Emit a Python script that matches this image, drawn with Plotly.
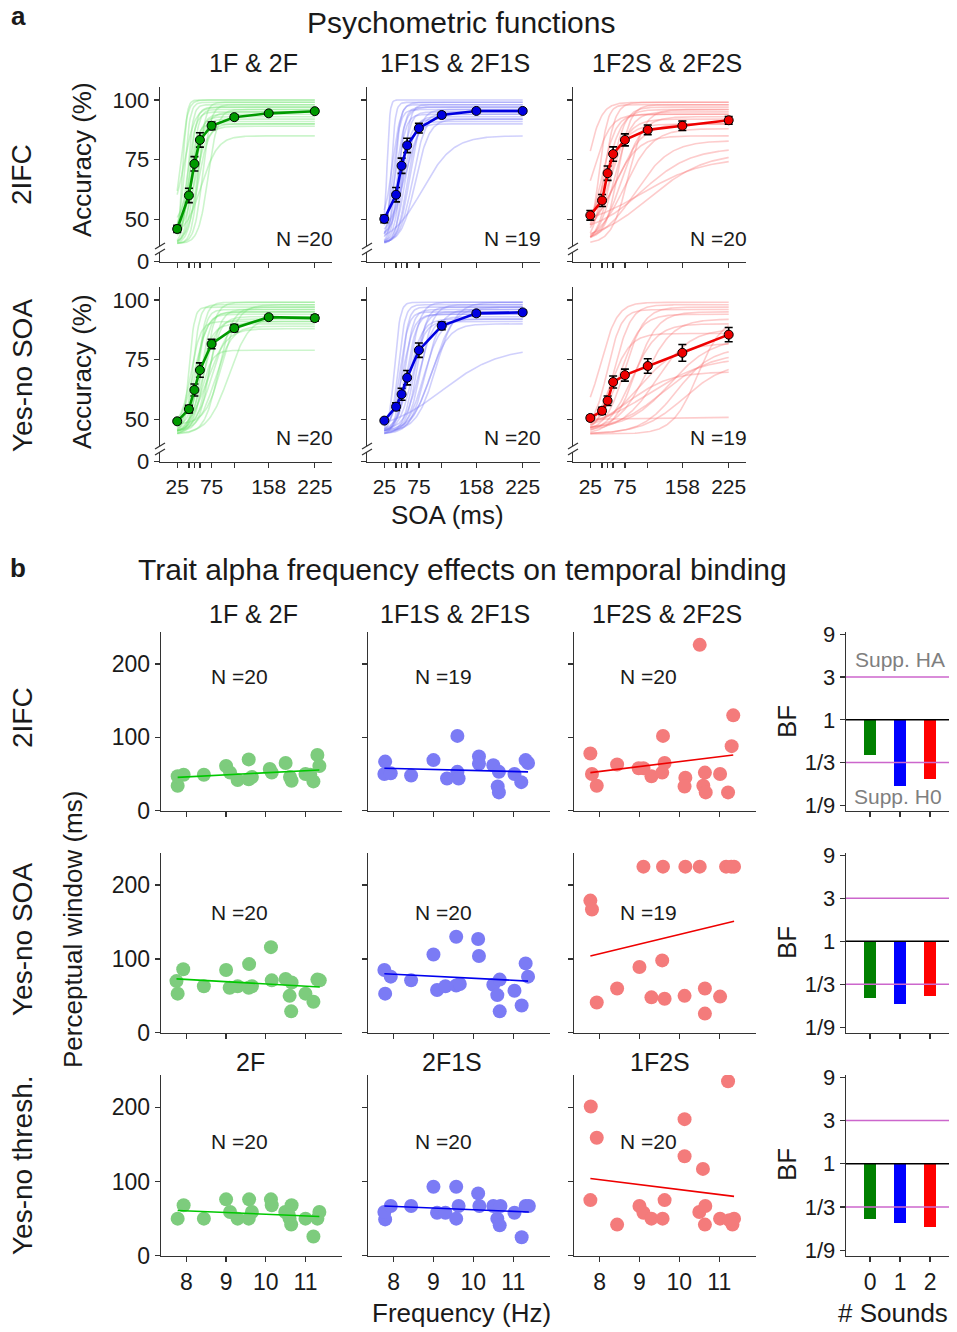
import numpy as np
import plotly.graph_objects as go

W, H = 957, 1332
FONT = "Liberation Sans, Arial, Helvetica, sans-serif"
INK = "#1a1a1a"
AXC = "#333333"


def X(px):
    return px / W


def Y(py):
    return 1 - py / H


# ------------------------------------------------------------------ panel a data
soa = [25, 42, 50, 58, 75, 108, 158, 225]
soa_ticktext = ["25", "", "", "", "75", "", "158", "225"]
acc_tickvals = [32.5, 50, 75, 100]          # 32.5 sits at the axis break and is labelled 0
acc_ticktext = ["0", "50", "75", "100"]
cond_titles = ["1F & 2F", "1F1S & 2F1S", "1F2S & 2F2S"]
row_titles_a = ["2IFC", "Yes-no SOA"]

# mean accuracy (%) and s.e.m. -- row 2IFC
acc_2ifc_1f = [46.1, 60.1, 73.3, 83.3, 89.2, 92.8, 94.4, 95.3]
err_2ifc_1f = [1.5, 3.0, 3.0, 3.0, 1.6, 1.0, 0.6, 0.6]
acc_2ifc_1f1s = [50.3, 60.4, 72.5, 81.0, 88.2, 93.7, 95.4, 95.4]
err_2ifc_1f1s = [1.6, 3.0, 3.2, 3.0, 2.0, 1.0, 0.7, 0.7]
acc_2ifc_1f2s = [51.8, 58.0, 69.4, 77.4, 83.3, 87.5, 89.2, 91.5]
err_2ifc_1f2s = [2.0, 2.5, 3.0, 3.0, 2.5, 2.0, 2.0, 1.6]
# row yes-no SOA
acc_soa_1f = [49.3, 54.4, 62.4, 70.7, 81.6, 88.2, 92.8, 92.4]
err_soa_1f = [0.6, 1.6, 2.5, 3.0, 2.0, 1.5, 0.8, 1.3]
acc_soa_1f1s = [49.6, 55.4, 60.6, 67.5, 79.0, 89.2, 94.4, 94.8]
err_soa_1f1s = [0.6, 1.6, 2.5, 3.0, 3.0, 1.6, 1.1, 0.9]
acc_soa_1f2s = [50.7, 53.7, 57.9, 65.7, 68.6, 72.4, 77.9, 85.5]
err_soa_1f2s = [1.0, 1.5, 2.0, 2.5, 2.5, 3.0, 3.5, 3.0]

n_psych = [[20, 19, 20], [20, 20, 19]]

# individual psychometric fits: lower, upper, midpoint (ms), spread (ms)
fits_2ifc_1f_lo = [42, 45, 40, 48, 42, 40, 44, 40, 42, 40, 45, 40, 42, 40, 40, 43, 50, 40, 44, 46]
fits_2ifc_1f_hi = [100, 99, 98, 100, 97, 96, 95, 94, 93, 92, 91, 90, 89, 98, 96, 85, 97, 99, 90, 95]
fits_2ifc_1f_mid = [33, 36, 40, 30, 43, 46, 40, 50, 45, 53, 48, 55, 50, 62, 70, 60, 35, 56, 42, 47]
fits_2ifc_1f_sp = [3, 4, 4, 5, 5, 5, 6, 6, 7, 6, 8, 8, 9, 6, 7, 12, 8, 5, 6, 10]

fits_2ifc_1f1s_lo = [45, 42, 40, 40, 44, 40, 42, 40, 40, 43, 40, 40, 45, 40, 40, 48, 40, 42, 40]
fits_2ifc_1f1s_hi = [100, 99, 98, 97, 96, 95, 94, 93, 92, 91, 90, 96, 97, 94, 85, 99, 92, 95, 98]
fits_2ifc_1f1s_mid = [29, 35, 40, 45, 38, 50, 44, 55, 48, 52, 58, 62, 42, 66, 80, 37, 70, 55, 52]
fits_2ifc_1f1s_sp = [2, 3, 4, 5, 5, 6, 6, 7, 8, 8, 7, 8, 7, 9, 22, 6, 10, 12, 5]

fits_2ifc_1f2s_lo = [40, 42, 45, 40, 44, 40, 42, 40, 40, 45, 40, 42, 40, 44, 40, 46, 40, 42, 48, 40]
fits_2ifc_1f2s_hi = [99, 98, 99, 97, 96, 95, 94, 93, 92, 90, 88, 85, 83, 80, 78, 76, 96, 98, 94, 90]
fits_2ifc_1f2s_mid = [45, 38, 20, 55, 48, 60, 42, 70, 52, 65, 75, 58, 90, 100, 110, 100, 80, 65, 30, 45]
fits_2ifc_1f2s_sp = [8, 6, 10, 10, 12, 12, 10, 15, 14, 18, 20, 18, 25, 35, 40, 45, 12, 9, 12, 16]

fits_soa_1f_lo = [45, 46, 44, 45, 44, 46, 45, 44, 45, 46, 45, 44, 45, 48, 44, 45, 46, 44, 45, 48]
fits_soa_1f_hi = [97, 98, 96, 95, 99, 94, 93, 92, 91, 90, 89, 88, 79, 98, 97, 96, 95, 93, 99, 91]
fits_soa_1f_mid = [42, 48, 55, 60, 65, 52, 70, 62, 75, 58, 80, 68, 60, 90, 85, 72, 50, 100, 55, 45]
fits_soa_1f_sp = [4, 5, 6, 7, 8, 8, 9, 10, 12, 9, 12, 14, 8, 12, 10, 8, 10, 15, 6, 7]

fits_soa_1f1s_lo = [46, 45, 44, 45, 46, 44, 45, 46, 44, 45, 44, 45, 46, 44, 45, 46, 44, 45, 46, 45]
fits_soa_1f1s_hi = [99, 98, 97, 96, 99, 95, 94, 93, 92, 91, 90, 99, 97, 96, 80, 95, 92, 98, 94, 97]
fits_soa_1f1s_mid = [40, 45, 50, 55, 62, 68, 58, 75, 82, 65, 90, 100, 72, 85, 110, 48, 60, 78, 52, 95]
fits_soa_1f1s_sp = [4, 5, 5, 6, 8, 8, 7, 10, 12, 9, 14, 14, 7, 11, 40, 6, 10, 9, 8, 15]

fits_soa_1f2s_lo = [44, 45, 46, 44, 45, 46, 44, 45, 44, 46, 45, 44, 45, 46, 44, 50, 45, 48, 44]
fits_soa_1f2s_hi = [98, 97, 96, 95, 94, 92, 90, 88, 86, 84, 82, 80, 78, 76, 74, 51, 70, 99, 93]
fits_soa_1f2s_mid = [60, 75, 50, 90, 68, 105, 85, 120, 55, 140, 95, 150, 130, 110, 160, 100, 80, 40, 180]
fits_soa_1f2s_sp = [12, 14, 10, 16, 15, 20, 18, 25, 14, 30, 28, 25, 35, 40, 30, 50, 30, 12, 18]

# ------------------------------------------------------------------ panel b data
freq_ticks = [8, 9, 10, 11]
win_ticks = [0, 100, 200]
row_titles_b = ["2IFC", "Yes-no SOA", "Yes-no thresh."]
row3_titles = ["2F", "2F1S", "1F2S"]
n_alpha = [[20, 19, 20], [20, 20, 19], [20, 20, 20]]

freq_2ifc_1f = [7.78, 7.78, 7.93, 8.44, 9.00, 9.10, 9.29, 9.57, 9.57, 9.65, 10.10, 10.15, 10.50, 10.61, 10.65, 11.00, 11.20, 11.30, 11.35, 11.12]
win_2ifc_1f = [34, 47, 49, 49, 61, 52, 42, 70, 43, 46, 57, 52, 65, 46, 41, 50, 40, 76, 61, 49]
freq_2ifc_1f1s = [7.79, 7.77, 7.93, 8.44, 9.00, 9.34, 9.60, 9.60, 9.63, 10.14, 10.14, 10.50, 10.64, 10.61, 10.64, 11.03, 11.20, 11.31, 11.37]
win_2ifc_1f1s = [67, 50, 51, 48, 69, 44, 102, 53, 44, 74, 64, 62, 53, 33, 25, 50, 39, 69, 65]
freq_2ifc_1f2s = [10.51, 11.35, 9.59, 11.31, 7.77, 7.81, 7.93, 8.44, 8.98, 9.10, 9.30, 9.57, 9.63, 10.15, 10.13, 10.64, 10.60, 10.66, 11.02, 11.22]
win_2ifc_1f2s = [226, 130, 102, 88, 78, 50, 34, 63, 58, 58, 47, 52, 65, 45, 33, 52, 34, 25, 50, 25]

freq_soa_1f = [7.78, 7.75, 7.92, 8.44, 9.00, 9.09, 9.29, 9.58, 9.57, 9.65, 10.13, 10.15, 10.50, 10.65, 10.60, 10.64, 11.00, 11.20, 11.30, 11.36]
win_soa_1f = [53, 70, 86, 63, 85, 61, 63, 93, 61, 63, 116, 71, 73, 68, 50, 29, 53, 42, 72, 71]
freq_soa_1f1s = [7.77, 7.93, 7.79, 8.44, 9.00, 9.09, 9.30, 9.57, 9.57, 9.66, 10.12, 10.14, 10.50, 10.66, 10.60, 10.66, 11.03, 11.21, 11.31, 11.37]
win_soa_1f1s = [85, 76, 53, 71, 106, 58, 63, 130, 64, 66, 127, 104, 65, 72, 51, 29, 57, 37, 94, 76]
freq_soa_1f2s = [9.10, 9.59, 10.15, 10.51, 11.17, 11.37, 11.30, 7.77, 7.81, 7.93, 8.44, 9.00, 9.57, 9.30, 9.63, 10.13, 10.64, 10.64, 11.02]
win_soa_1f2s = [225, 225, 225, 225, 225, 225, 225, 179, 167, 41, 60, 89, 98, 48, 46, 50, 60, 26, 49]

freq_thr_2f = [7.78, 7.93, 8.44, 9.00, 9.10, 9.29, 9.58, 9.57, 9.65, 10.13, 10.15, 10.49, 10.65, 10.60, 10.64, 11.00, 11.20, 11.30, 11.35, 10.58]
win_thr_2f = [50, 68, 50, 76, 59, 50, 76, 50, 59, 76, 68, 59, 68, 50, 42, 50, 26, 50, 59, 55]
freq_thr_2f1s = [7.79, 7.77, 7.93, 8.44, 9.00, 9.09, 9.30, 9.57, 9.63, 9.57, 10.12, 10.15, 10.50, 10.68, 10.60, 10.66, 11.03, 11.21, 11.31, 11.39]
win_thr_2f1s = [49, 59, 67, 67, 93, 58, 58, 93, 67, 50, 84, 67, 67, 67, 50, 41, 58, 25, 67, 67]
freq_thr_1f2s = [11.22, 7.78, 10.13, 7.93, 10.13, 10.59, 7.77, 8.44, 9.00, 9.10, 9.30, 9.58, 9.63, 10.50, 10.65, 10.64, 11.02, 11.33, 11.37, 11.25]
win_thr_1f2s = [235, 201, 184, 159, 134, 117, 75, 42, 67, 58, 50, 50, 75, 59, 67, 42, 50, 42, 50, 48]

# regression line values at the lowest and highest frequency of each panel
trend_2ifc = [[45.5, 55.5], [58, 53], [52, 76]]
trend_soa = [[73, 62], [80, 70], [104, 151]]
trend_thr = [[61, 53], [67, 59], [104, 80]]

# Bayes factors
n_sounds = [0, 1, 2]
bf_2ifc = [0.405, 0.183, 0.218]
bf_soa = [0.236, 0.199, 0.247]
bf_thr = [0.248, 0.222, 0.199]
bf_tickvals = [1 / 9, 1 / 3, 1, 3, 9]
bf_ticktext = ["1/9", "1/3", "1", "3", "9"]
bf_criteria = [3, 1 / 3]

# ------------------------------------------------------------------ styles
mean_col = ["#009a00", "#0000e0", "#ee0000"]
fit_col = ["rgba(110,225,110,0.35)", "rgba(120,120,245,0.35)", "rgba(250,110,110,0.35)"]
dot_col = ["#7dcc7d", "#7b7bf5", "#f47b7b"]
line_col = ["#00c800", "#0000ee", "#ee0000"]
bar_col = ["#008000", "#0000ff", "#ff0000"]

cols_a = [(160, 332), (367, 540), (573, 746)]
rows_a = [(87, 262), (287, 462)]
cols_b = [(161, 342), (368, 550), (574, 756)]
rows_b = [(632, 811), (853, 1033), (1075, 1256)]
bf_cols = (846, 949)

fig = go.Figure()
axes = {}
shapes = []
annots = []


def ids(k):
    return ("x", "y") if k == 1 else (f"x{k}", f"y{k}")


def base_axis(size):
    return dict(showline=True, linecolor=AXC, linewidth=1.3, ticks="outside", ticklen=5,
                tickwidth=1.3, tickcolor=AXC, showgrid=False, zeroline=False, mirror=False,
                automargin=False,
                tickfont=dict(family=FONT, size=size, color=INK), fixedrange=True)


def set_axes(k, xpx, ypx, xa, ya, xsize, ysize):
    xn = "xaxis" if k == 1 else f"xaxis{k}"
    yn = "yaxis" if k == 1 else f"yaxis{k}"
    xi, yi = ids(k)
    axes[xn] = {**base_axis(xsize), **xa, "domain": [X(xpx[0]), X(xpx[1])], "anchor": yi}
    axes[yn] = {**base_axis(ysize), **ya, "domain": [Y(ypx[1]), Y(ypx[0])], "anchor": xi}


def txt(x, y, text, size, **kw):
    d = dict(x=X(x), y=Y(y), xref="paper", yref="paper", text=text, showarrow=False,
             xanchor="center", yanchor="middle",
             font=dict(family=FONT, size=size, color=kw.pop("color", INK)))
    d.update(kw)
    annots.append(d)


# ------------------------------------------------------------------ panel a
acc_means = [[acc_2ifc_1f, acc_2ifc_1f1s, acc_2ifc_1f2s], [acc_soa_1f, acc_soa_1f1s, acc_soa_1f2s]]
acc_errs = [[err_2ifc_1f, err_2ifc_1f1s, err_2ifc_1f2s], [err_soa_1f, err_soa_1f1s, err_soa_1f2s]]
fits = [
    [(fits_2ifc_1f_lo, fits_2ifc_1f_hi, fits_2ifc_1f_mid, fits_2ifc_1f_sp),
     (fits_2ifc_1f1s_lo, fits_2ifc_1f1s_hi, fits_2ifc_1f1s_mid, fits_2ifc_1f1s_sp),
     (fits_2ifc_1f2s_lo, fits_2ifc_1f2s_hi, fits_2ifc_1f2s_mid, fits_2ifc_1f2s_sp)],
    [(fits_soa_1f_lo, fits_soa_1f_hi, fits_soa_1f_mid, fits_soa_1f_sp),
     (fits_soa_1f1s_lo, fits_soa_1f1s_hi, fits_soa_1f1s_mid, fits_soa_1f1s_sp),
     (fits_soa_1f2s_lo, fits_soa_1f2s_hi, fits_soa_1f2s_mid, fits_soa_1f2s_sp)],
]
xs = np.linspace(soa[0], soa[-1], 150)
acc_range = [32.3, 105.4]

for r in range(2):
    for c in range(3):
        k = 1 + r * 3 + c
        xi, yi = ids(k)
        lo, hi, mid, sp = fits[r][c]
        for a, b, m, s in zip(lo, hi, mid, sp):
            ys = a + (b - a) / (1 + np.exp(-(xs - m) / s))
            fig.add_trace(go.Scatter(x=xs, y=ys, mode="lines", xaxis=xi, yaxis=yi,
                                     line=dict(color=fit_col[c], width=1.6), hoverinfo="skip"))
        fig.add_trace(go.Scatter(
            x=soa, y=acc_means[r][c], mode="lines+markers", xaxis=xi, yaxis=yi,
            line=dict(color=mean_col[c], width=2.6),
            marker=dict(size=9, color=mean_col[c], line=dict(color="black", width=1)),
            error_y=dict(type="data", array=acc_errs[r][c], color="black", thickness=1.6, width=4)))
        set_axes(k, cols_a[c], rows_a[r],
                 dict(range=[0, 250], tickvals=soa,
                      ticktext=soa_ticktext if r == 1 else [""] * len(soa)),
                 dict(range=acc_range, tickvals=acc_tickvals,
                      ticktext=acc_ticktext if c == 0 else [""] * 4),
                 21, 22)
        # axis break marks
        xb = cols_a[c][0]
        yb = rows_a[r][1] - 13
        shapes.append(dict(type="rect", xref="paper", yref="paper", x0=X(xb - 3), x1=X(xb + 3),
                           y0=Y(yb + 3), y1=Y(yb - 3), fillcolor="white", line=dict(width=0),
                           layer="above"))
        for dy in (-3, 3):
            shapes.append(dict(type="line", xref="paper", yref="paper", x0=X(xb - 5),
                               y0=Y(yb + dy + 3), x1=X(xb + 5), y1=Y(yb + dy - 3),
                               line=dict(color=AXC, width=1.3), layer="above"))
        txt(cols_a[c][1] + 3, rows_a[r][1] - 24, f"N ={n_psych[r][c]}", 21, xanchor="right")

# ------------------------------------------------------------------ panel b scatter
freqs = [[freq_2ifc_1f, freq_2ifc_1f1s, freq_2ifc_1f2s],
         [freq_soa_1f, freq_soa_1f1s, freq_soa_1f2s],
         [freq_thr_2f, freq_thr_2f1s, freq_thr_1f2s]]
wins = [[win_2ifc_1f, win_2ifc_1f1s, win_2ifc_1f2s],
        [win_soa_1f, win_soa_1f1s, win_soa_1f2s],
        [win_thr_2f, win_thr_2f1s, win_thr_1f2s]]
trends = [trend_2ifc, trend_soa, trend_thr]

for r in range(3):
    for c in range(3):
        k = 7 + r * 3 + c
        xi, yi = ids(k)
        f = freqs[r][c]
        fig.add_trace(go.Scatter(x=f, y=wins[r][c], mode="markers", xaxis=xi, yaxis=yi,
                                 marker=dict(size=14, color=dot_col[c], line=dict(width=0))))
        fig.add_trace(go.Scatter(x=[min(f), max(f)], y=trends[r][c], mode="lines", xaxis=xi,
                                 yaxis=yi, line=dict(color=line_col[c], width=1.6)))
        set_axes(k, cols_b[c], rows_b[r],
                 dict(range=[7.36, 11.92], tickvals=freq_ticks,
                      ticktext=[str(v) for v in freq_ticks] if r == 2 else [""] * 4),
                 dict(range=[-0.3, 243.5], tickvals=win_ticks,
                      ticktext=[str(v) for v in win_ticks] if c == 0 else [""] * 3),
                 23, 23)
        txt([239, 443, 648][c], rows_b[r][0] + [45, 60, 66][r],
            f"N ={n_alpha[r][c]}", 21)

# ------------------------------------------------------------------ panel b Bayes factors
bfs = [bf_2ifc, bf_soa, bf_thr]
for r in range(3):
    k = 16 + r
    xi, yi = ids(k)
    fig.add_trace(go.Bar(x=n_sounds, y=[v - 1 for v in bfs[r]], base=[1] * 3, xaxis=xi, yaxis=yi,
                         width=0.42, marker=dict(color=bar_col, line=dict(width=0))))
    set_axes(k, bf_cols, rows_b[r],
             dict(range=[-0.8, 2.63], tickvals=n_sounds,
                  ticktext=[str(v) for v in n_sounds] if r == 2 else [""] * 3),
             dict(type="log", range=[-1.018, 0.980], tickvals=bf_tickvals, ticktext=bf_ticktext),
             23, 22)
    for crit in bf_criteria:
        shapes.append(dict(type="line", xref=f"{xi} domain", yref=yi, x0=0, x1=1, y0=crit, y1=crit,
                           line=dict(color="#cc66cc", width=1.6), layer="above"))
    shapes.append(dict(type="line", xref=f"{xi} domain", yref=yi, x0=0, x1=1, y0=1, y1=1,
                       line=dict(color="black", width=1.6), layer="above"))
    txt(787, [722, 943, 1165][r], "BF", 26, textangle=-90)

txt(900, 659, "Supp. HA", 21, color="#7f7f7f")
txt(898, 796, "Supp. H0", 21, color="#7f7f7f")

# ------------------------------------------------------------------ text
txt(18, 16, "<b>a</b>", 26)
txt(18, 568, "<b>b</b>", 26)
txt(461, 22, "Psychometric functions", 30)
txt(462, 569, "Trait alpha frequency effects on temporal binding", 30)
col_cx = [253, 455, 667]
for c in range(3):
    txt(col_cx[c], 63, cond_titles[c], 25)
    txt(col_cx[c], 614, cond_titles[c], 25)
    txt([250, 452, 660][c], 1062, row3_titles[c], 25)
txt(22, 175, row_titles_a[0], 28, textangle=-90)
txt(22, 376, row_titles_a[1], 28, textangle=-90)
txt(82, 160, "Accuracy (%)", 26, textangle=-90)
txt(82, 372, "Accuracy (%)", 26, textangle=-90)
txt(22, 718, row_titles_b[0], 28, textangle=-90)
txt(22, 940, row_titles_b[1], 28, textangle=-90)
txt(22, 1165, row_titles_b[2], 28, textangle=-90)
txt(73, 930, "Perceptual window (ms)", 26, textangle=-90)
txt(447, 515, "SOA (ms)", 26)
txt(461, 1313, "Frequency (Hz)", 26)
txt(893, 1313, "# Sounds", 26)

fig.update_layout(width=W, height=H,
                  margin=dict(l=0, r=0, t=0, b=0, pad=0, autoexpand=False), showlegend=False,
                  plot_bgcolor="white", paper_bgcolor="white", font=dict(family=FONT, color=INK),
                  shapes=shapes, annotations=annots, bargap=0, **axes)
fig.write_html("out.html", config={"displayModeBar": False, "staticPlot": True},
               post_script="document.body.style.margin='0px';")
